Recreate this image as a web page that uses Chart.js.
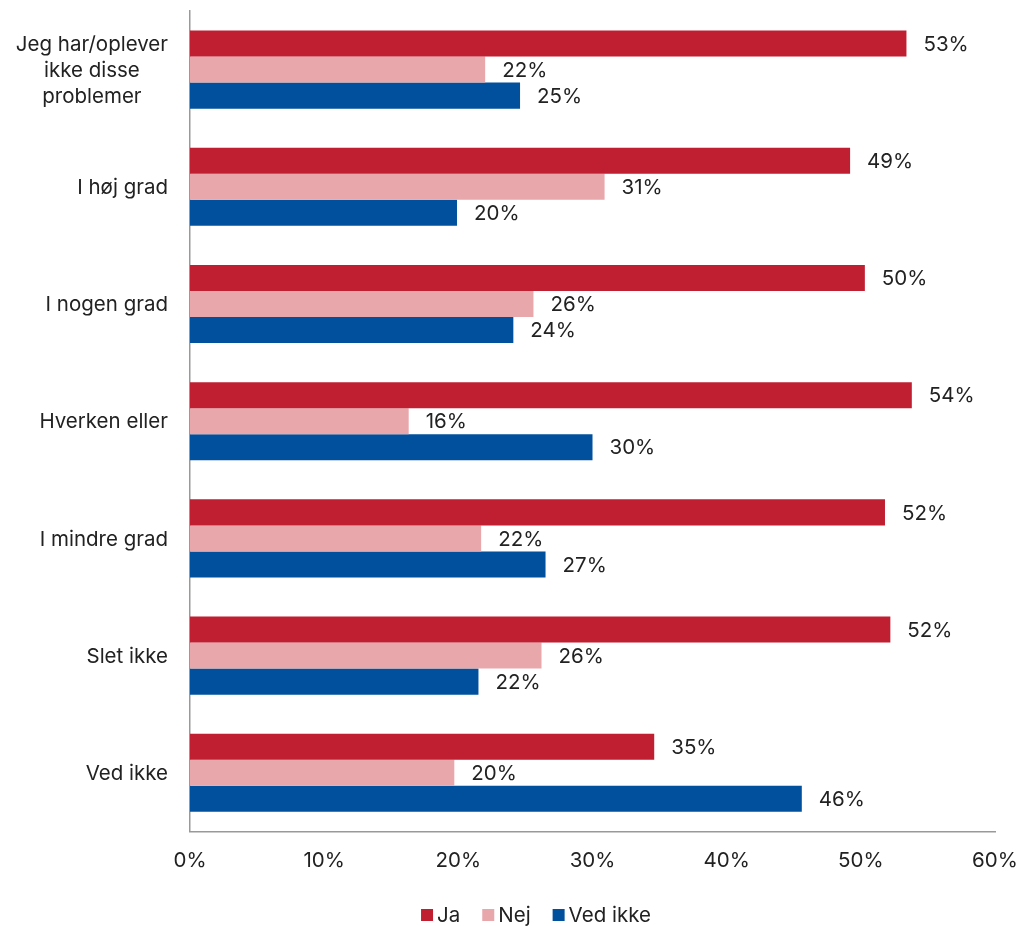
<!DOCTYPE html>
<html lang="no">
<head>
  <meta charset="UTF-8">
  <title>Ja / Nej / Ved ikke</title>
  <script src="https://cdn.jsdelivr.net/npm/chart.js"></script>
  <style>
    body {
      margin: 0;
      padding: 0;
      background-color: #fff;
    }

    .wrap {
      position: relative;
      width: 1021px;
      height: 926px;
    }
  </style>
</head>
<body>

  <div class="wrap">
    <canvas id="barChart"></canvas>
  </div>

  <script>
    // Kategorier (flere linjer = array)
    var categories = [
      ['Jeg har/oplever', 'ikke disse', 'problemer'],
      'I høj grad',
      'I nogen grad',
      'Hverken eller',
      'I mindre grad',
      'Slet ikke',
      'Ved ikke'
    ];

    // Serier (procent)
    var jaValues = [53.4, 49.2, 50.3, 53.8, 51.8, 52.2, 34.6];
    var nejValues = [22.0, 30.9, 25.6, 16.3, 21.7, 26.2, 19.7];
    var vedIkkeValues = [24.6, 19.9, 24.1, 30.0, 26.5, 21.5, 45.6];

    var xTicks = [0, 10, 20, 30, 40, 50, 60];

    var fontFamily = 'Inter, "Noto Sans", Arial, sans-serif';
    var fontSize = 20.5;
    var textColor = '#222';

    // Tal ved enden af hver søjle
    var valueLabels = {
      id: 'valueLabels',
      afterDatasetsDraw: function(chart) {
        var ctx = chart.ctx;
        ctx.save();
        ctx.font = fontSize + 'px ' + fontFamily;
        ctx.fillStyle = textColor;
        ctx.textAlign = 'left';
        ctx.textBaseline = 'middle';
        chart.data.datasets.forEach(function(ds, i) {
          var meta = chart.getDatasetMeta(i);
          meta.data.forEach(function(bar, j) {
            ctx.fillText(Math.round(ds.data[j]) + '%', bar.x + 17, bar.y + 1);
          });
        });
        ctx.restore();
      }
    };

    // Kategoritekster: blok højrejusteret, linjer centreret
    var categoryLabels = {
      id: 'categoryLabels',
      afterDraw: function(chart) {
        var ctx = chart.ctx;
        var yScale = chart.scales.y;
        var right = yScale.right - 22;
        ctx.save();
        ctx.font = fontSize + 'px ' + fontFamily;
        ctx.fillStyle = textColor;
        ctx.textAlign = 'center';
        ctx.textBaseline = 'middle';
        categories.forEach(function(cat, i) {
          var lines = Array.isArray(cat) ? cat : [cat];
          var w = 0;
          lines.forEach(function(l) { w = Math.max(w, ctx.measureText(l).width); });
          var cx = right - w / 2;
          var cy = yScale.getPixelForTick(i);
          var lineH = 26;
          var y0 = cy - (lines.length - 1) * lineH / 2;
          lines.forEach(function(l, k) {
            ctx.fillText(l, cx, y0 + k * lineH + 1);
          });
        });
        ctx.restore();
      }
    };

    // Forklaring under figuren: lille firkant, tæt på teksten
    var bottomLegend = {
      id: 'bottomLegend',
      afterDraw: function(chart) {
        var ctx = chart.ctx;
        var box = 12, gap = 4, itemGap = 22;
        ctx.save();
        ctx.font = fontSize + 'px ' + fontFamily;
        ctx.textBaseline = 'middle';
        ctx.textAlign = 'left';
        var items = chart.data.datasets.map(function(ds) {
          return { text: ds.label, color: ds.backgroundColor, w: ctx.measureText(ds.label).width };
        });
        var total = 0;
        items.forEach(function(it, i) {
          total += box + gap + it.w + (i > 0 ? itemGap : 0);
        });
        var x = 536 - total / 2;
        var y = chart.height - 11;
        items.forEach(function(it) {
          ctx.fillStyle = it.color;
          ctx.fillRect(x, y - box / 2, box, box);
          ctx.fillStyle = textColor;
          ctx.fillText(it.text, x + box + gap, y + 1);
          x += box + gap + it.w + itemGap;
        });
        ctx.restore();
      }
    };

    var ctx = document.getElementById('barChart').getContext('2d');

    var barChart = new Chart(ctx, {
      type: 'bar',
      data: {
        labels: categories,
        datasets: [
          { label: 'Ja', data: jaValues, backgroundColor: '#C01F32' },
          { label: 'Nej', data: nejValues, backgroundColor: '#E8A7AB' },
          { label: 'Ved ikke', data: vedIkkeValues, backgroundColor: '#00509D' }
        ]
      },
      options: {
        indexAxis: 'y',
        responsive: true,
        maintainAspectRatio: false,
        animation: false,
        layout: {
          padding: { top: 11, right: 26, bottom: 36, left: 0 }
        },
        datasets: {
          bar: {
            categoryPercentage: 0.666,
            barPercentage: 1
          }
        },
        scales: {
          x: {
            min: 0,
            max: 60,
            afterBuildTicks: function(scale) {
              scale.ticks = xTicks.map(function(v) { return { value: v }; });
            },
            afterFit: function(scale) {
              scale.paddingRight = 0;
              scale.paddingLeft = 0;
            },
            grid: { display: false, drawTicks: false },
            border: { display: true, color: '#999', width: 1.5 },
            ticks: {
              padding: 17,
              maxRotation: 0,
              color: textColor,
              font: { family: fontFamily, size: fontSize },
              callback: function(v) { return v + '%'; }
            }
          },
          y: {
            grid: { display: false, drawTicks: false },
            border: { display: true, color: '#999', width: 1.5 },
            ticks: { display: false },
            afterFit: function(scale) {
              scale.width = 190;
            }
          }
        },
        plugins: {
          legend: { display: false },
          tooltip: { enabled: false }
        }
      },
      plugins: [valueLabels, categoryLabels, bottomLegend]
    });
  </script>

</body>
</html>
